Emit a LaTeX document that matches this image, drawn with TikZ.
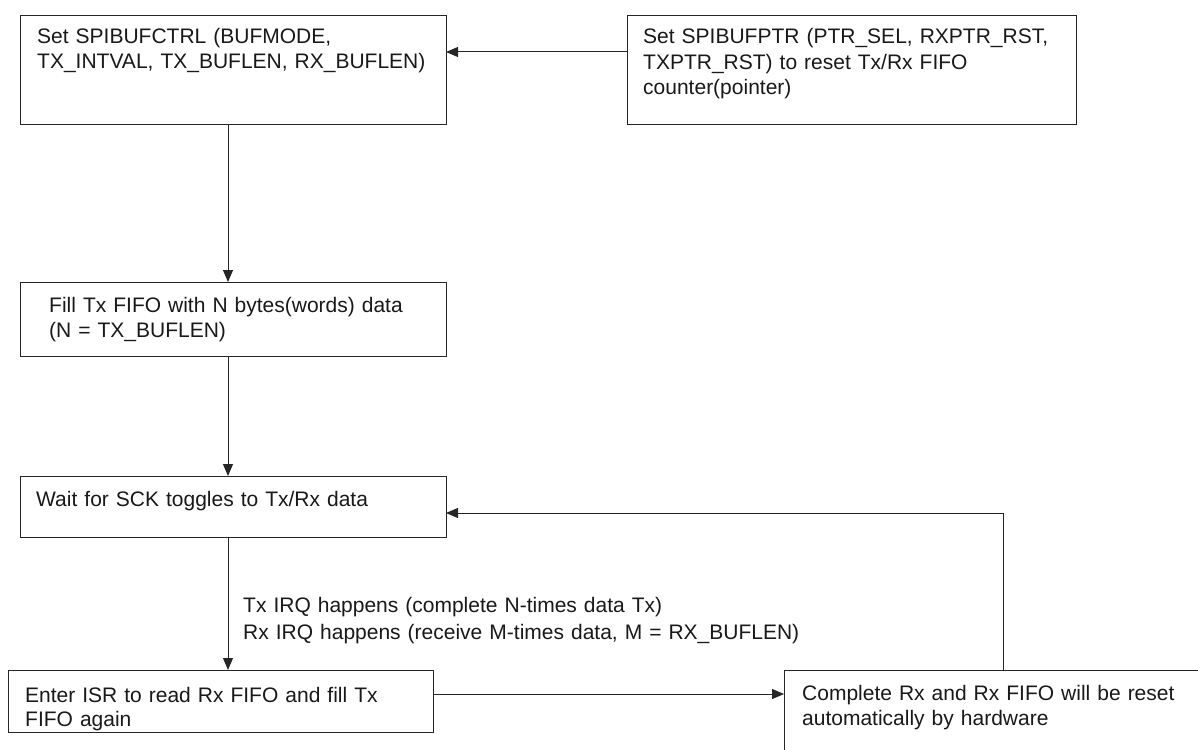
\documentclass[tikz,border=0pt]{standalone}
\usepackage{fontspec}
\setmainfont{Liberation Sans}
\usetikzlibrary{arrows.meta}
\tikzset{
  box/.style={draw=black!85, line width=1pt, inner sep=0pt, outer sep=0pt},
  txt/.style={anchor=base west, inner sep=0pt, text width=560pt, align=left, text=black!90},
  arr/.style={draw=black!85, line width=1pt, -{Triangle[length=12pt,width=10pt]}},
}
\newcommand{\fs}[1]{\fontsize{21}{#1}\selectfont}
\begin{document}
\begin{tikzpicture}[x=1pt,y=-1pt]
\useasboundingbox (0,0) rectangle (1198,749);
\fill[white] (0,0) rectangle (1198,749);
\clip (0,0) rectangle (1198,749);

\node[box, minimum width=426pt, minimum height=108pt] (b1) at (233,70) {};
\node[txt, font=\fs{25}] (t1) at (37,44) {Set SPIBUFCTRL (BUFMODE,\\TX\_INTVAL, TX\_BUFLEN, RX\_BUFLEN)};

\node[box, minimum width=449pt, minimum height=108pt] (b2) at (851.5,70) {};
\node[txt, font=\fs{25.5}] (t2) at (643,44) {Set SPIBUFPTR (PTR\_SEL, RXPTR\_RST,\\TXPTR\_RST) to reset Tx/Rx FIFO\\counter(pointer)};

\node[box, minimum width=426pt, minimum height=74pt] (b3) at (233,319) {};
\node[txt, font=\fs{25}] (t3) at (49,312) {Fill Tx FIFO with N bytes(words) data\\(N = TX\_BUFLEN)};

\node[box, minimum width=426pt, minimum height=61pt] (b4) at (233,506.5) {};
\node[txt, font=\fs{25}] (t4) at (36,506) {Wait for SCK toggles to Tx/Rx data};

\node[box, minimum width=425pt, minimum height=62pt] (b5) at (220.5,701) {};
\node[txt, font=\fs{24}] (t5) at (25,702) {Enter ISR to read Rx FIFO and fill Tx\\FIFO again};

\node[box, minimum width=436pt, minimum height=100pt] (b6) at (1002,720) {};
\node[txt, font=\fs{25}] (t6) at (802,700) {Complete Rx and Rx FIFO will be reset\\automatically by hardware};

\node[txt, font=\fs{27}] (lab) at (243,612) {Tx IRQ happens (complete N-times data Tx)\\Rx IRQ happens (receive M-times data, M = RX\_BUFLEN)};

\draw[arr] ([yshift=-36pt]b2.north west) -- ([yshift=-36pt]b1.north east);
\draw[arr] ([xshift=-5pt]b1.south) -- ([xshift=-5pt]b3.north);
\draw[arr] ([xshift=-5pt]b3.south) -- ([xshift=-5pt]b4.north);
\draw[arr] ([xshift=-5pt]b4.south) -- ([xshift=-5pt]b4.south |- b5.north);
\draw[arr] ([yshift=-24pt]b5.north east) -- ([yshift=-24pt]b6.north west);
\coordinate (r) at (1003,513);
\draw[arr] (b6.north -| r) -- (r) -- (b4.east |- r);
\end{tikzpicture}
\end{document}
